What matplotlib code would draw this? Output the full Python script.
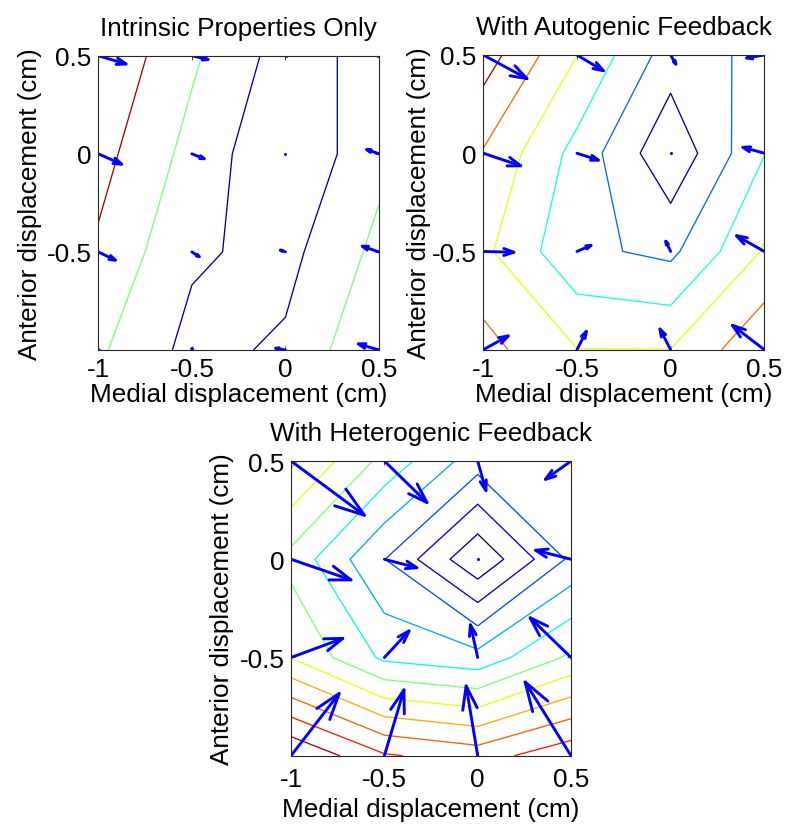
import numpy as np
import matplotlib
matplotlib.use("Agg")
import matplotlib.pyplot as plt

# ---------------- data ----------------
grid_x = [-1.0, -0.5, 0.0, 0.5]
grid_y = [-1.0, -0.5, 0.0, 0.5]

x_ticks = [-1.0, -0.5, 0.0, 0.5]
x_tick_labels = ["-1", "-0.5", "0", "0.5"]
y_ticks = [-0.5, 0.0, 0.5]
y_tick_labels = ["-0.5", "0", "0.5"]

titles = ["Intrinsic Properties Only", "With Autogenic Feedback", "With Heterogenic Feedback"]
x_label = "Medial displacement (cm)"
y_label = "Anterior displacement (cm)"

# contour field values, rows from y=-1 (bottom) to y=0.5 (top)
z_intrinsic = [
    [2.155, 0.696, 1.158, 2.927],
    [2.846, 1.154, 0.6845, 2.27],
    [3.357, 1.673, 0.115, 1.712],
    [3.888, 2.167, 0.564, 1.351],
]
levels_intrinsic = [1, 2, 3]

z_autogenic = [
    [5.35, 4.02, 4.01, 5.83],
    [4.22, 2.22, 1.77, 4.10],
    [4.92, 2.66, 0.20, 2.97],
    [6.50, 4.01, 1.51, 2.26],
]
levels_autogenic = [1, 2, 3, 4, 5, 6]

z_heterogenic = [
    [11.97, 10.11, 9.55, 10.70],
    [6.97, 4.80, 4.35, 6.19],
    [5.68, 3.02, 0.15, 3.20],
    [8.18, 5.68, 3.45, 3.80],
]
levels_heterogenic = [1, 2, 3, 4, 5, 6, 7, 8, 9, 10, 11]

# force vectors (drawn length, data units), rows from y=-1 to y=0.5
u_intrinsic = [
    [0.004, 0.0, -0.052, -0.110],
    [0.091, 0.039, -0.027, -0.089],
    [0.125, 0.066, 0.0, -0.066],
    [0.148, 0.086, 0.008, -0.004],
]
v_intrinsic = [
    [0.0, 0.008, 0.009, 0.031],
    [-0.042, -0.024, 0.009, 0.029],
    [-0.053, -0.025, 0.0, 0.022],
    [-0.042, -0.019, -0.002, 0.0],
]

u_autogenic = [
    [0.133, 0.050, -0.057, -0.170],
    [0.163, 0.075, -0.026, -0.148],
    [0.200, 0.114, 0.0, -0.114],
    [0.233, 0.141, 0.028, -0.094],
]
v_autogenic = [
    [0.070, 0.093, 0.105, 0.124],
    [-0.004, 0.031, 0.052, 0.080],
    [-0.064, -0.035, 0.0, 0.030],
    [-0.120, -0.080, -0.046, -0.015],
]

u_heterogenic = [
    [0.258, 0.105, -0.062, -0.246],
    [0.277, 0.132, -0.039, -0.219],
    [0.321, 0.174, 0.0, -0.190],
    [0.393, 0.228, 0.044, -0.137],
]
v_heterogenic = [
    [0.317, 0.335, 0.355, 0.375],
    [0.097, 0.135, 0.166, 0.202],
    [-0.105, -0.043, 0.0, 0.046],
    [-0.276, -0.211, -0.150, -0.093],
]

# ---------------- style ----------------
FS = 18.8
plt.rcParams["font.family"] = ["Liberation Sans", "DejaVu Sans"]
plt.rcParams["font.size"] = FS

jet = plt.get_cmap("jet")
fig = plt.figure(figsize=(8.0, 8.37), dpi=100)

panels = [
    dict(rect=[0.1229, 0.5806, 0.3509, 0.3516], z=z_intrinsic, lv=levels_intrinsic,
         u=u_intrinsic, v=v_intrinsic, title=titles[0],
         cfr=[0.03, 0.50, 0.96],
         ylab_x=-0.199, xlab_y=-0.108, xpad=5.3),
    dict(rect=[0.6041, 0.5810, 0.3513, 0.3521], z=z_autogenic, lv=levels_autogenic,
         u=u_autogenic, v=v_autogenic, title=titles[1],
         cfr=[0.03, 0.23, 0.38, 0.63, 0.80, 0.96],
         ylab_x=-0.187, xlab_y=-0.108, xpad=5.3),
    dict(rect=[0.3638, 0.0959, 0.3500, 0.3521], z=z_heterogenic, lv=levels_heterogenic,
         u=u_heterogenic, v=v_heterogenic, title=titles[2],
         cfr=[0.03, 0.08, 0.20, 0.29, 0.37, 0.50, 0.63, 0.73, 0.81, 0.88, 0.96],
         ylab_x=-0.203, xlab_y=-0.140, xpad=8.0),
]

X, Y = np.meshgrid(grid_x, grid_y)
ALPHA = 0.33
BETA = 0.33

for p in panels:
    ax = fig.add_axes(p["rect"])
    Z = np.array(p["z"])
    ax.contour(X, Y, Z, levels=p["lv"], colors=[jet(f) for f in p["cfr"]],
               linewidths=0.95, zorder=2)

    U = np.array(p["u"])
    V = np.array(p["v"])
    for xx, yy, uu, vv in zip(X.ravel(), Y.ravel(), U.ravel(), V.ravel()):
        if uu == 0 and vv == 0:
            ax.plot([xx], [yy], marker="o", ms=2.2, color="#0000ff",
                    mec="none", zorder=3)
            continue
        tx, ty = xx + uu, yy + vv
        ax.plot([xx, tx], [yy, ty], color="#0000ff", lw=2.1,
                solid_capstyle="round", zorder=3)
        hx = [tx - ALPHA * (uu + BETA * vv), tx, tx - ALPHA * (uu - BETA * vv)]
        hy = [ty - ALPHA * (vv - BETA * uu), ty, ty - ALPHA * (vv + BETA * uu)]
        ax.plot(hx, hy, color="#0000ff", lw=2.1, solid_capstyle="round",
                solid_joinstyle="round", zorder=3)

    ax.set_xlim(-1, 0.5)
    ax.set_ylim(-1, 0.5)
    ax.set_xticks(x_ticks)
    ax.set_xticklabels(x_tick_labels)
    ax.set_yticks(y_ticks)
    ax.set_yticklabels(y_tick_labels)
    ax.tick_params(direction="in", length=3, width=0.6, top=True, right=True,
                   labelsize=FS, color="#262626")
    ax.tick_params(axis="x", pad=p["xpad"])
    ax.tick_params(axis="y", pad=4.7)
    for s in ax.spines.values():
        s.set_linewidth(0.8)
        s.set_color("#262626")
        s.set_zorder(5)

    ax.set_title(p["title"], fontsize=FS, pad=14.9)
    ax.set_xlabel(x_label, fontsize=FS)
    ax.set_ylabel(y_label, fontsize=FS)
    ax.xaxis.set_label_coords(0.5, p["xlab_y"])
    ax.yaxis.set_label_coords(p["ylab_x"], 0.5)

fig.savefig("out.png", dpi=100, facecolor="white")
